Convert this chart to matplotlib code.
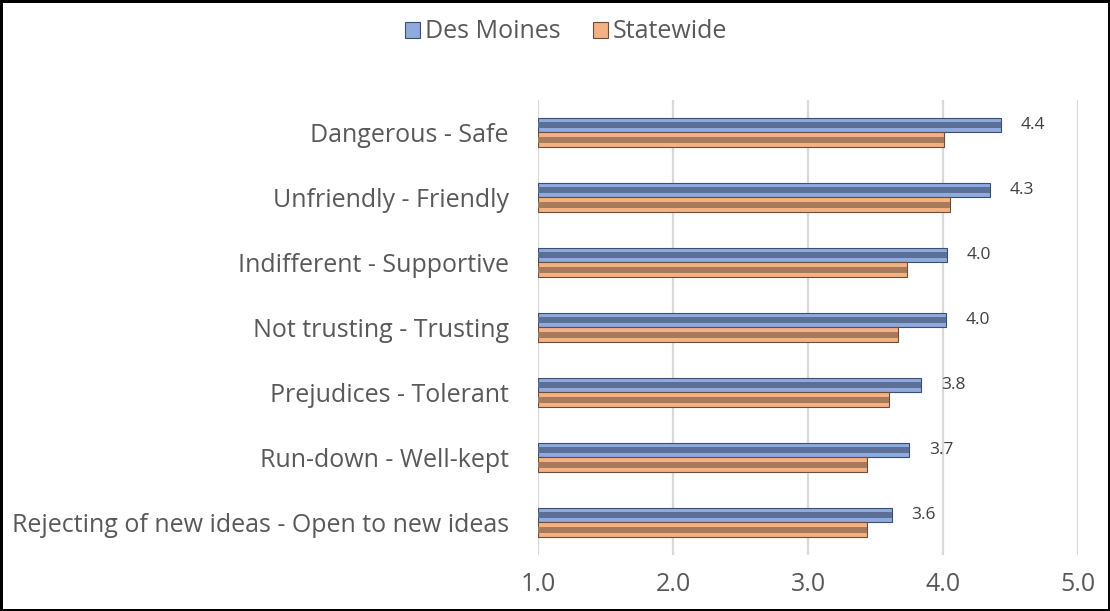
import numpy as np
import matplotlib.pyplot as plt

# Mean ratings per community characteristic
categories = ['Dangerous - Safe', 'Unfriendly - Friendly', 'Indifferent - Supportive',
              'Not trusting - Trusting', 'Prejudices - Tolerant', 'Run-down - Well-kept',
              'Rejecting of new ideas - Open to new ideas']
des_moines = [4.43, 4.35, 4.03, 4.02, 3.84, 3.75, 3.62]
statewide = [4.01, 4.05, 3.73, 3.67, 3.60, 3.44, 3.44]
dm_labels = ['4.4', '4.3', '4.0', '4.0', '3.8', '3.7', '3.6']
xticks = [1.0, 2.0, 3.0, 4.0, 5.0]

plt.rcParams['font.family'] = ['Open Sans', 'DejaVu Sans']

fig = plt.figure(figsize=(11.1, 6.11), dpi=100)
fig.patch.set_edgecolor('black')
fig.patch.set_linewidth(2.5)
ax = fig.add_axes([0.4847, 0.0917, 0.4865, 0.7447])

y = np.arange(len(categories))
h = 0.23
base = 1.0

def bevel_bar(ypos, vals, light, dark, edge, label):
    w = np.array(vals) - base
    ax.barh(ypos, w, height=h, left=base, color=light, edgecolor=edge,
            linewidth=0.8, label=label, zorder=3)
    # darker stripe through the middle for the bevelled look
    ax.barh(ypos, w, height=h * 0.35, left=base, color=dark, linewidth=0, zorder=4)

bevel_bar(y - h / 2, des_moines, '#8FAADC', '#5C6F96', '#3E4E70', 'Des Moines')
bevel_bar(y + h / 2, statewide, '#F4B183', '#A77A5C', '#6E4E38', 'Statewide')

for yi, v, lab in zip(y, des_moines, dm_labels):
    ax.annotate(lab, (v, yi - h / 2), xytext=(14, 0), textcoords='offset points',
                va='center', ha='left', fontsize=12.5, color='#404040')

ax.set_xlim(1.0, 5.0)
ax.set_ylim(len(categories) - 0.5, -0.5)
ax.set_xticks(xticks)
ax.set_xticklabels([f'{t:.1f}' for t in xticks], fontsize=18, color='#595959')
ax.set_yticks(y)
ax.set_yticklabels(categories, fontsize=18, color='#595959')
ax.tick_params(axis='both', length=0)
ax.tick_params(axis='y', pad=21)
ax.tick_params(axis='x', pad=12)
ax.grid(axis='x', color='#D9D9D9', linewidth=1.6, zorder=0)
ax.set_axisbelow(True)
for s in ax.spines.values():
    s.set_visible(False)

handles, labels = ax.get_legend_handles_labels()
fig.legend(handles, labels, loc='upper center', bbox_to_anchor=(0.51, 1.005), ncol=2,
           frameon=False, fontsize=18, labelcolor='#595959', handlelength=0.6,
           handleheight=0.6, handletextpad=0.2, columnspacing=1.3)

fig.savefig('out.png', dpi=100, edgecolor=fig.get_edgecolor())
